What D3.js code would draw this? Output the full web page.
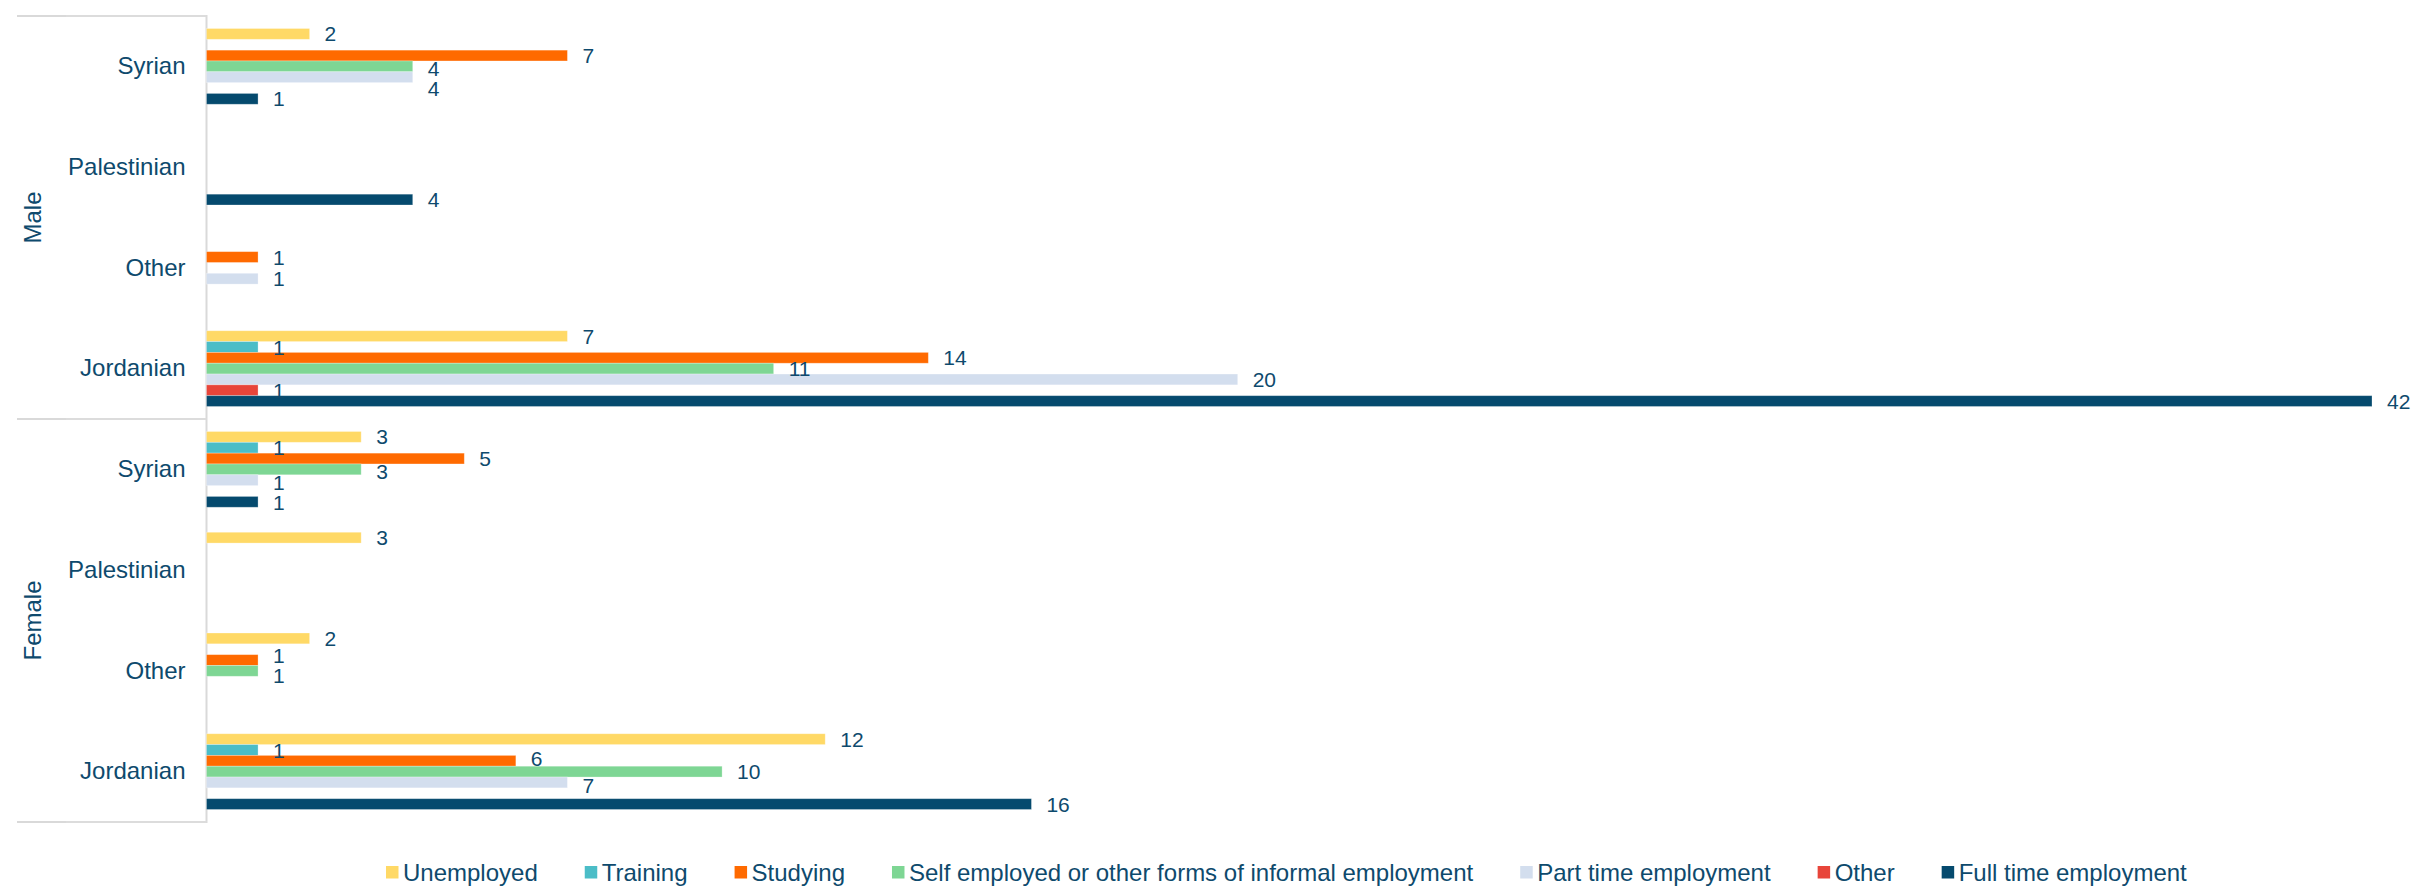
<!DOCTYPE html>
<html>
<head>
<meta charset="utf-8">
<script src="https://cdn.jsdelivr.net/npm/d3@7"></script>
<style>
  html, body { margin: 0; padding: 0; background: #ffffff; }
  svg { display: block; }
  text { font-family: "Liberation Sans", Arial, Helvetica, sans-serif; }
</style>
</head>
<body>
<svg id="chart" width="2432" height="893"></svg>
<script>
// ---------- data ----------
const groups = ["Male", "Female"];
const categories = ["Syrian", "Palestinian", "Other", "Jordanian"];
const seriesNames = [
  "Unemployed",
  "Training",
  "Studying",
  "Self employed or other forms of informal employment",
  "Part time employment",
  "Other",
  "Full time employment"
];
const seriesColors = ["#FFD966", "#4BBDC7", "#FF6A00", "#7ED694", "#D3DEEE", "#E8453A", "#054A6E"];
// values per row: Male Syrian, Male Palestinian, Male Other, Male Jordanian,
//                 Female Syrian, Female Palestinian, Female Other, Female Jordanian
const unemployed   = [2, 0, 0, 7, 3, 3, 2, 12];
const training     = [0, 0, 0, 1, 1, 0, 0, 1];
const studying     = [7, 0, 1, 14, 5, 0, 1, 6];
const selfEmployed = [4, 0, 0, 11, 3, 0, 1, 10];
const partTime     = [4, 0, 1, 20, 1, 0, 0, 7];
const otherStatus  = [0, 0, 0, 1, 0, 0, 0, 0];
const fullTime     = [1, 4, 0, 42, 1, 0, 0, 16];
const seriesValues = [unemployed, training, studying, selfEmployed, partTime, otherStatus, fullTime];

// ---------- layout ----------
const textColor = "#0E4A6D";
const lineColor = "#D9D9D9";
const svg = d3.select("#chart");

const rows = [];
groups.forEach(g => categories.forEach(c => rows.push({ group: g, cat: c, key: g + "|" + c })));
rows.forEach((r, ri) => {
  r.values = seriesNames.map((s, si) => ({ series: s, si: si, v: seriesValues[si][ri] }));
});

const plotLeft = 206.5, plotTop = 16, plotBottom = 822;
const maxV = d3.max(seriesValues.flat());
const x = d3.scaleLinear().domain([0, maxV]).range([plotLeft, 2372]);
const y = d3.scaleBand().domain(rows.map(r => r.key)).range([plotTop, plotBottom]);
const sub = d3.scaleBand().domain(seriesNames).range([12.5, y.bandwidth() - 12.5]);
const color = d3.scaleOrdinal().domain(seriesNames).range(seriesColors);

// ---------- frame lines ----------
const frame = svg.append("g").attr("stroke", lineColor).attr("stroke-width", 2).attr("fill", "none");
frame.append("line").attr("x1", plotLeft).attr("x2", plotLeft).attr("y1", plotTop - 1).attr("y2", plotBottom + 1);
const groupBounds = groups.map(g => {
  const rs = rows.filter(r => r.group === g);
  return { g, top: y(rs[0].key), bottom: y(rs[rs.length - 1].key) + y.bandwidth() };
});
const hLines = [plotTop, ...groupBounds.map(b => b.bottom)];
hLines.forEach(hy => {
  frame.append("line").attr("x1", 17).attr("x2", 66).attr("y1", hy).attr("y2", hy);
  frame.append("line").attr("x1", 66).attr("x2", plotLeft).attr("y1", hy).attr("y2", hy).attr("stroke", "#DCDCDC");
});

// ---------- bars ----------
const rowG = svg.append("g").selectAll("g.row").data(rows).join("g")
  .attr("class", "row")
  .attr("transform", r => `translate(0,${y(r.key)})`);

rowG.selectAll("rect").data(r => r.values.filter(d => d.v > 0)).join("rect")
  .attr("x", x(0))
  .attr("y", d => sub(d.series))
  .attr("width", d => x(d.v) - x(0))
  .attr("height", sub.bandwidth())
  .attr("fill", d => color(d.series))
  .attr("stroke", "#ffffff")
  .attr("stroke-opacity", 0.35)
  .attr("stroke-width", 0.8);

// ---------- value labels with collision avoidance ----------
const labelSize = 21, halfCap = 7.5, minSep = 20;
rows.forEach(r => {
  const bw = sub.bandwidth();
  const labels = [];
  r.values.forEach(d => {
    if (!(d.v > 0)) return;
    const lx = x(d.v) + 15;
    const w = String(d.v).length * 0.556 * labelSize;
    const cy0 = sub(d.series) + bw / 2;
    const obstacles = [];
    r.values.forEach(o => {
      if (o.si !== d.si && o.v > 0 && x(o.v) > lx) {
        obstacles.push({ top: sub(o.series), bottom: sub(o.series) + bw });
      }
    });
    const ok = cy => obstacles.every(o => !(cy - halfCap < o.bottom && cy + halfCap > o.top));
    let cy = cy0;
    for (let s = 0; s <= 10; s += 0.5) {
      if (ok(cy0 + s)) { cy = cy0 + s; break; }
      if (ok(cy0 - s)) { cy = cy0 - s; break; }
    }
    const lab = { d, x: lx, w, cy, ok: ok(cy) ? ok : (() => true) };
    labels.push(lab);
  });
  // push apart overlapping labels
  for (let iter = 0; iter < 6; iter++) {
    for (let i = 1; i < labels.length; i++) {
      for (let j = 0; j < i; j++) {
        const a = labels[j], b = labels[i];
        const hOverlap = a.x < b.x + b.w + 2 && b.x < a.x + a.w + 2;
        const dist = b.cy - a.cy;
        if (!hOverlap || Math.abs(dist) >= minSep) continue;
        const deficit = minSep - Math.abs(dist);
        // how far can the upper label move up?
        let upAllowed = 0;
        for (let m = 0.5; m <= deficit / 2; m += 0.5) {
          if (a.ok(a.cy - m)) upAllowed = m; else break;
        }
        a.cy -= upAllowed;
        b.cy += deficit - upAllowed;
      }
    }
  }
  labels.forEach(l => { l.d.lx = l.x; l.d.ly = l.cy; });
});

rowG.selectAll("text.val").data(r => r.values.filter(d => d.v > 0)).join("text")
  .attr("class", "val")
  .attr("x", d => d.lx)
  .attr("y", d => d.ly + 0.36 * labelSize)
  .attr("font-size", labelSize)
  .attr("fill", textColor)
  .text(d => d.v);

// ---------- category axis ----------
const axis = d3.axisLeft(y).tickSize(0).tickPadding(21).tickFormat(k => k.split("|")[1]);
const axG = svg.append("g").attr("transform", `translate(${plotLeft},0)`).call(axis);
axG.select(".domain").remove();
axG.selectAll("text")
  .attr("font-size", 24)
  .attr("fill", textColor)
  .attr("font-family", "'Liberation Sans', Arial, sans-serif");

// ---------- group labels ----------
groupBounds.forEach(b => {
  svg.append("text")
    .attr("transform", `translate(41,${(b.top + b.bottom) / 2}) rotate(-90)`)
    .attr("text-anchor", "middle")
    .attr("font-size", 24)
    .attr("fill", textColor)
    .text(b.g);
});

// ---------- legend ----------
const legend = svg.append("g");
let lxPos = 386;
seriesNames.forEach((s, i) => {
  legend.append("rect")
    .attr("x", lxPos).attr("y", 866)
    .attr("width", 12.5).attr("height", 12.5)
    .attr("fill", color(s));
  const t = legend.append("text")
    .attr("x", lxPos + 17).attr("y", 881)
    .attr("font-size", 24)
    .attr("fill", textColor)
    .text(s);
  lxPos = lxPos + 17 + t.node().getComputedTextLength() + 47;
});
</script>
</body>
</html>
